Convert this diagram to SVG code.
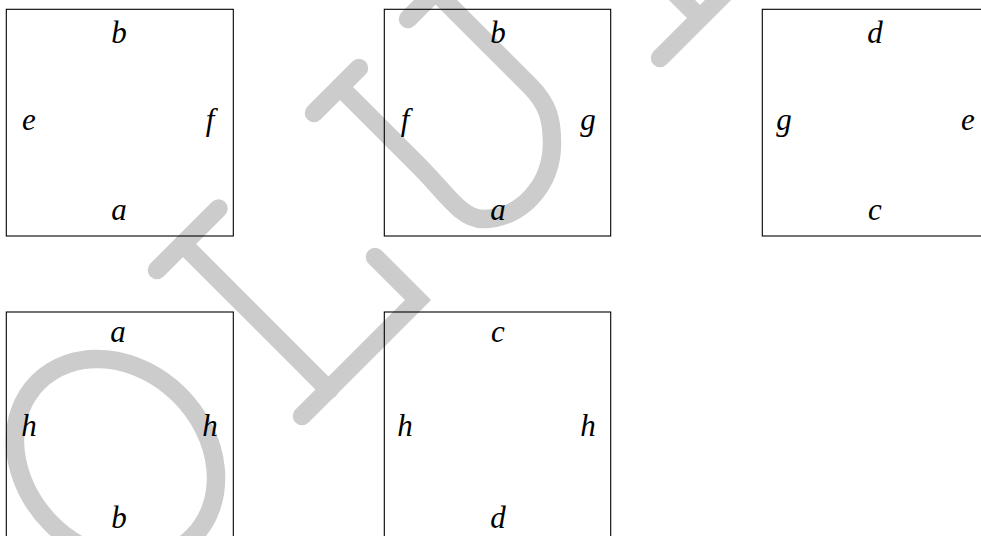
<svg xmlns="http://www.w3.org/2000/svg" width="981" height="536" viewBox="0 0 981 536">
<style>
.wm{fill:none;stroke:#cccccc;stroke-width:18.5;stroke-linecap:round;stroke-linejoin:miter}
.box{fill:none;stroke:#000;stroke-width:1.1}
.lb{font-family:"Liberation Serif","Times New Roman",serif;font-style:italic;font-size:31px;fill:#000;text-anchor:middle}
</style>
<rect width="981" height="536" fill="#fff"/>
<g id="watermark">
<ellipse class="wm" cx="115.5" cy="459.5" rx="109.4" ry="90.8" transform="rotate(45 115.5 459.5)"/>
<path class="wm" d="M157 270 L218.5 208.5"/>
<path class="wm" d="M183 244 L329 390"/>
<path class="wm" d="M302 416 L418 300 L375 257"/>
<path class="wm" d="M314 113 L359 68"/>
<path class="wm" d="M408 19 L460 -33"/>
<path class="wm" d="M340 87 L420 167 C445 192 461 219 483 219 C521 219 552 185 552 143 C552 120 548 104 530 86 L435.5 -8.5"/>
<path class="wm" d="M660 58 L700 18 L760 -42 M700 18 L670 -12"/>
</g>
<g id="node1">
<rect class="box" x="6.3" y="9.3" width="227" height="226.7"/>
<text class="lb" x="119" y="42.5">b</text>
<text class="lb" x="29" y="130">e</text>
<text class="lb" x="210" y="130">f</text>
<text class="lb" x="119" y="220">a</text>
</g>
<g id="node2">
<rect class="box" x="384.3" y="9.3" width="226.4" height="226.7"/>
<text class="lb" x="498" y="42.5">b</text>
<text class="lb" x="405" y="130">f</text>
<text class="lb" x="588" y="130">g</text>
<text class="lb" x="498" y="220">a</text>
</g>
<g id="node3">
<rect class="box" x="762.3" y="9.3" width="227" height="226.7"/>
<text class="lb" x="875" y="42.5">d</text>
<text class="lb" x="784" y="130">g</text>
<text class="lb" x="968" y="130">e</text>
<text class="lb" x="875" y="220">c</text>
</g>
<g id="node4">
<rect class="box" x="6.3" y="312" width="227" height="230"/>
<text class="lb" x="118" y="342">a</text>
<text class="lb" x="29" y="436">h</text>
<text class="lb" x="210" y="436">h</text>
<text class="lb" x="119" y="527.5">b</text>
</g>
<g id="node5">
<rect class="box" x="384.3" y="312" width="226.4" height="230"/>
<text class="lb" x="498" y="342">c</text>
<text class="lb" x="405" y="436">h</text>
<text class="lb" x="588" y="436">h</text>
<text class="lb" x="498" y="527.5">d</text>
</g>
</svg>
